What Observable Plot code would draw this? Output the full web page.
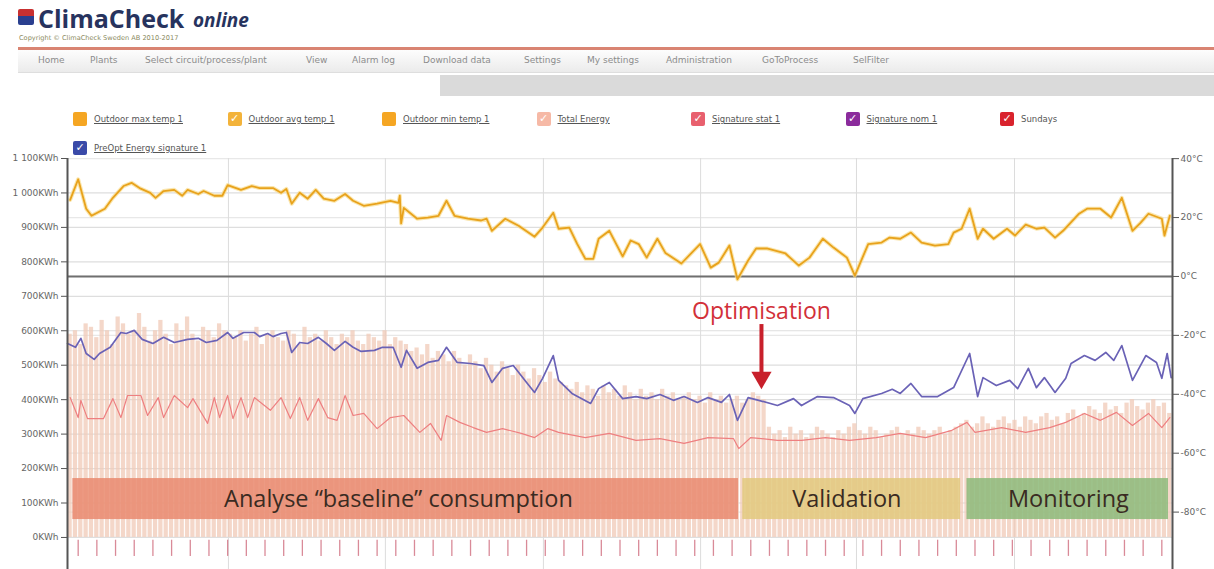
<!DOCTYPE html>
<html><head><meta charset="utf-8">
<script src="https://cdn.jsdelivr.net/npm/d3@7"></script>
<script src="https://cdn.jsdelivr.net/npm/@observablehq/plot@0.6"></script>
<style>
body{margin:0;width:1214px;height:569px;overflow:hidden;background:#fff;font-family:"DejaVu Sans",sans-serif;position:relative}
.abs{position:absolute}
#logo{left:18px;top:9px;width:16px;height:16px;background:linear-gradient(#c83030 0 45%,#2a3f8f 45% 100%);border-radius:2px}
#brand{left:38px;top:1px;font-family:"Open Sans";font-weight:700;font-size:25px;color:#27335e;white-space:nowrap}
#online{left:193px;top:7px;font-family:"Open Sans";font-weight:700;font-style:italic;font-size:19px;color:#27335e}
#copy{left:19px;top:34px;font-size:6.6px;color:#8a8a60;white-space:nowrap}
#redline{left:18px;top:47px;width:1196px;height:3px;background:#d98472}
#menu{left:18px;top:50px;width:1196px;height:22px;background:linear-gradient(#fdfdfd,#ebebeb);border-bottom:1px solid #dedede}
.mi{position:absolute;top:5px;font-size:9px;color:#8c8c8c;white-space:nowrap}
#greybar{left:440px;top:75px;width:774px;height:21px;background:#dadada}
.lg{position:absolute;font-size:8.5px;color:#555;text-decoration:underline;white-space:nowrap}
.cb{position:absolute;width:14px;height:14px;border-radius:2px;color:#fff;font-size:11px;line-height:14px;text-align:center}
#chart{position:absolute;left:0;top:152px}
</style></head><body>
<div id="logo" class="abs"></div>
<div id="brand" class="abs">ClimaCheck</div>
<div id="online" class="abs">online</div>
<div id="copy" class="abs">Copyright © ClimaCheck Sweden AB 2010-2017</div>
<div id="redline" class="abs"></div>
<div id="menu" class="abs"></div>
<div id="greybar" class="abs"></div>
<div id="legend"></div>
<div id="chart"></div>
<script>
// ---------- page texts ----------
const menuItems = ["Home","Plants","Select circuit/process/plant","View","Alarm log","Download data","Settings","My settings","Administration","GoToProcess","SelFilter"];
const menuX = [38,90,145,306,352,423,524,587,666,762,853];
const legendNames = ["Outdoor max temp 1","Outdoor avg temp 1","Outdoor min temp 1","Total Energy","Signature stat 1","Signature nom 1","Sundays","PreOpt Energy signature 1"];
const legendColors = ["#f5a623","#f3b33a","#f5a623","#f6b9a6","#e8606e","#8b2b9c","#d9232d","#3a4aa8"];
const legendChecked = [false,true,false,true,true,true,true,true];

// ---------- chart data ----------
const leftTicks = [0,100,200,300,400,500,600,700,800,900,1000,1100];
const leftLabels = ["0KWh","100KWh","200KWh","300KWh","400KWh","500KWh","600KWh","700KWh","800KWh","900KWh","1 000KWh","1 100KWh"];
const tempTicks = [40,20,0,-20,-40,-60,-80];
const tempLabels = ["40°C","20°C","0°C","-20°C","-40°C","-60°C","-80°C"];
const gridDays = [60.3,119.1,178.3,237.2,295.6,354.8];

// Outdoor avg temp 1 (°C)
const tempDay = [1,4,7,9,14,17,21,24,27,31,33,36,40,43,45,49,51,55,58,60,65,69,72,77,80,82,84,87,90,93,96,100,104,107,111,116,121,124,124.5,125,126,131,135,139,142,145,150,155,157,159,164,169,175,178,182,184,188,191,194,197,199,203,208,211,214,217,221,224,230,237,241,244,248,251,255,258,262,269,274,278,283,287,292,295,300,305,308,312,316,320,325,330,332,335,338,341,343,347,352,355,359,363,366,370,373,379,382,387,391,395,399,402,405,410,411,413];
const tempVal = [26,33,23,20.6,23,26.7,30.7,31.8,30,28.4,26.7,29,29.4,27.4,29.4,28,29,27.4,27.4,31,29.4,30.7,30,30,28.4,29.7,24.7,28.4,26.4,29.4,26.4,25.7,28,25.7,24,24.7,25.7,25,27.4,18,23.3,19.6,20,20.6,25.7,20.6,19.6,19,19.6,15.5,19.6,17.2,13.5,16.6,21.6,16.2,16.6,11,6,6,12.8,15.5,6.8,12.2,11,6.4,12.8,8,4.4,11,3,4.7,10.5,-1,5.4,9.5,9.5,7.8,3.7,6.4,12.8,9.8,6.4,0.3,11,11.5,13.2,12.8,14.9,11.5,10.5,11,14.9,16.2,23,12.8,16.2,12.8,16.2,13.9,17.6,16.2,16.6,13.2,15.5,21.3,23,23,20,26.7,15.5,18.2,21.3,19.6,13.9,20.6];

// PreOpt Energy signature 1 (KWh)
const sigDay = [0,3,5,7,10,12,16,20,22,25,28,32,36,40,45,49,52,56,60,62,66,70,72,75,77,80,82,84,87,90,94,97,100,104,107,110,115,118,122,125,127,131,135,139,142,146,151,156,159,163,167,172,175,178,182,184,189,196,199,203,208,213,217,222,227,231,236,240,245,248,251,255,259,266,272,275,281,287,293,295,298,305,309,312,316,320,326,332,338,341,343,348,353,356,360,363,366,370,374,376,381,385,389,392,395,399,404,408,410,412,413.5];
const sigVal = [563,552,578,534,517,534,552,595,592,601,575,563,581,566,575,578,566,572,595,578,595,595,583,592,583,592,595,537,566,563,581,563,543,569,552,540,543,552,552,494,543,491,508,514,552,508,505,499,450,491,499,450,421,462,528,456,418,389,432,450,403,409,403,415,398,409,392,406,392,415,340,406,398,383,403,383,409,406,383,360,403,418,430,418,447,409,409,435,534,409,464,441,456,432,491,435,464,421,462,505,528,514,537,514,557,456,528,508,462,534,464];

// Signature stat 1 (KWh)
const statDay = [1,4,5,7.5,13.5,17,20,22.5,27.5,30,34,36,40,45,47,52.5,55,57,60,62,65,67.5,70,76,80,83.5,87,90,94,97.5,101,104,107,111,116,121,126,132,136,140,142,147,152,157,163,170,175,180,184,194,203,213,222,231,240,249.5,251.5,256,266,275,284,293,303,312,321.5,331,337,340,350,359,368,374,381,387,393,399,405,410,413];
const statVal = [406,348,398,345,345,403,348,412,412,354,406,348,412,377,403,331,406,348,412,345,406,348,406,369,406,345,406,340,403,348,340,412,354,360,316,348,354,305,331,282,354,334,319,305,316,302,290,316,305,290,302,282,287,273,290,287,258,290,282,282,290,282,290,302,290,310,334,305,319,305,319,334,360,340,363,325,360,319,348];

// Total Energy (KWh per 2-day bar)
const energyVal = [590,600,560,620,610,580,630,600,560,640,620,590,600,650,610,570,600,630,590,560,620,600,640,590,570,610,600,580,620,600,590,
580,600,570,590,610,560,590,600,580,570,600,590,560,610,580,590,570,600,580,560,590,580,600,570,560,590,580,570,600,560,580,570,
560,540,550,530,560,520,540,530,510,540,520,500,530,510,490,520,500,480,510,490,470,500,480,460,490,470,450,480,460,450,
440,430,450,420,440,430,410,440,420,430,410,440,420,400,430,410,420,400,430,410,420,400,410,420,400,410,390,420,400,410,390,400,410,390,400,420,410,400,
320,300,310,290,320,300,310,290,300,320,310,300,290,310,300,320,330,310,300,320,310,290,300,310,320,300,310,300,320,310,300,310,320,300,310,320,330,
340,320,330,350,330,320,340,350,330,340,320,350,340,330,350,360,340,350,330,360,370,350,360,380,370,360,390,370,380,360,390,400,380,370,390,400,380,390,360];

// Sundays
const sundays = [4,11,18,25,32,39,46,53,60,67,74,81,88,95,102,109,116,123,130,137,144,151,158,165,172,179,186,193,200,207,214,221,228,235,242,249,256,263,270,277,284,291,298,305,312,319,326,333,340,347,354,361,368,375,382,389,396,403,410];

// Phases
const phaseNames = ["Analyse “baseline” consumption","Validation","Monitoring"];
const phaseStart = [2,253,337];
const phaseEnd = [251.4,334.6,412.5];
const phaseLow = [52,52,52];
const phaseHigh = [171,171,171];
const phaseLabelDay = [124,292,375];
const phaseColors = ["#e98c72","#e2c97f","#8fbb7c"];

// Optimisation annotation
const optText = ["Optimisation"];
const optDay = [260];
const optTextY = [656];
const optArrowTop = [618];
const optArrowBottom = [478];
const optHeadY = [464];

// ---------- header build ----------
const menu = document.getElementById("menu");
menuItems.forEach((m,i)=>{const s=document.createElement("span");s.className="mi";s.textContent=m;s.style.left=(menuX[i]-18)+"px";menu.appendChild(s);});
const lg = document.getElementById("legend");
legendNames.forEach((n,i)=>{
  const row = i<7?0:1, col = i<7?i:0;
  const bx = 73 + col*154.5, by = row===0?112:141;
  const b=document.createElement("div");b.className="cb";b.style.left=bx+"px";b.style.top=by+"px";b.style.background=legendColors[i];
  if(legendChecked[i]) b.textContent="✓";
  lg.appendChild(b);
  const t=document.createElement("div");t.className="lg";t.textContent=n;t.style.left=(bx+21)+"px";t.style.top=(by+2)+"px";
  if(n==="Sundays") t.style.textDecoration="none";
  lg.appendChild(t);
});

// ---------- chart ----------
const t2k = t => 757.6 + 8.55*t;
const k2t = k => (k-757.6)/8.55;
const bars = energyVal.map((v,i)=>({x1:2*i,x2:2*i+2,y:v}));
const phases = phaseNames.map((n,i)=>({n,x1:phaseStart[i],x2:phaseEnd[i],y1:phaseLow[i],y2:phaseHigh[i],c:phaseColors[i],mid:phaseLabelDay[i],ym:(phaseLow[i]+phaseHigh[i])/2}));

const chart = Plot.plot({
  width:1214, height:417,
  marginTop:6, marginBottom:0, marginLeft:67, marginRight:42,
  x:{domain:[0,414], axis:null, label:null},
  y:{domain:[-93,1100], axis:null, label:null},
  style:{fontFamily:"DejaVu Sans", fontSize:"9px", background:"transparent", overflow:"visible"},
  marks:[
    Plot.ruleY(leftTicks, {stroke:"#dedede", strokeWidth:1.2}),
    Plot.ruleY(tempTicks.map(t2k), {stroke:"#e8e8e8", strokeWidth:1.2}),
    Plot.ruleX(gridDays, {stroke:"#dcdcdc", strokeWidth:1}),
    Plot.rectY(bars, {x1:"x1", x2:"x2", y:"y", fill:"#f0c9b7", fillOpacity:0.75, insetLeft:0.5, insetRight:0.6}),
    Plot.rect(phases, {x1:"x1", x2:"x2", y1:"y1", y2:"y2", fill:"c", fillOpacity:0.88}),
    Plot.ruleY([t2k(0)], {stroke:"#6f6f6f", strokeWidth:2}),
    Plot.ruleX(sundays, {y1:-8, y2:-55, stroke:"#d98a98", strokeWidth:1.3}),
    Plot.line(statDay, {x:d=>d, y:(d,i)=>statVal[i], stroke:"#ee7f80", strokeWidth:1.2}),
    Plot.line(sigDay, {x:d=>d, y:(d,i)=>sigVal[i], stroke:"#6a62b6", strokeWidth:1.7}),
    Plot.line(tempDay, {x:d=>d, y:(d,i)=>t2k(tempVal[i]), stroke:"#f8dc8c", strokeWidth:4, strokeOpacity:0.7}),
    Plot.line(tempDay, {x:d=>d, y:(d,i)=>t2k(tempVal[i]), stroke:"#e8a21c", strokeWidth:1.8}),
    Plot.text(phases, {x:"mid", y:"ym", text:"n", fontSize:23.5, fontFamily:"Open Sans", fill:"#3a2b22"}),
    Plot.text(optText, {x:optDay, y:optTextY, text:d=>d, fontSize:23, fontFamily:"Open Sans", fill:"#d23039"}),
    Plot.ruleX(optDay, {x:d=>d, y1:optArrowTop, y2:optArrowBottom, stroke:"#c8202b", strokeWidth:4}),
    Plot.dot(optDay, {x:d=>d, y:optHeadY, symbol:"triangle", rotate:180, r:7.5, fill:"#c8202b", stroke:"none"}),
    Plot.ruleX([0], {stroke:"#555", strokeWidth:2}),
    Plot.ruleX([414], {stroke:"#555", strokeWidth:2}),
    Plot.axisY(leftTicks, {anchor:"left", tickSize:6, tickPadding:3, color:"#666", stroke:"#555", tickFormat:d=>leftLabels[leftTicks.indexOf(d)], label:null}),
    Plot.axisY(tempTicks.map(t2k), {anchor:"right", tickSize:6, tickPadding:2, color:"#666", stroke:"#555", tickFormat:d=>tempLabels[tempTicks.indexOf(Math.round(k2t(d)))], label:null})
  ]
});
document.getElementById("chart").appendChild(chart);
</script>
</body></html>
